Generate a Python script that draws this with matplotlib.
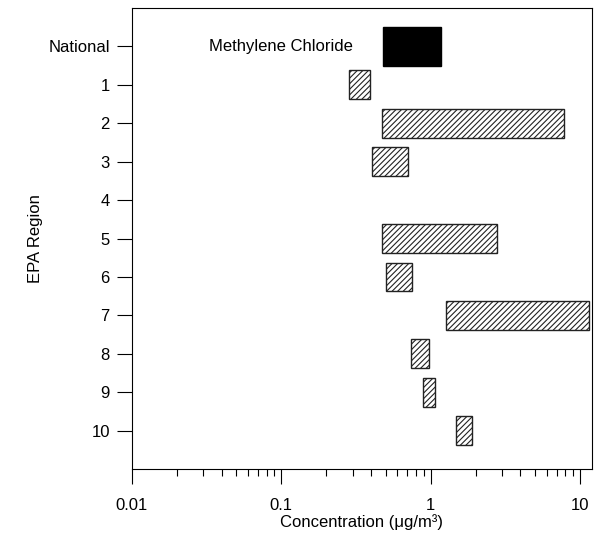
import matplotlib
matplotlib.use("Agg")
import matplotlib.pyplot as plt
import numpy as np

plt.rcParams["font.family"] = ["Liberation Sans", "DejaVu Sans"]
plt.rcParams["hatch.linewidth"] = 0.8

# Concentration range per region (low, high), ug/m3; region 4 has no data
regions = ["National", "1", "2", "3", "4", "5", "6", "7", "8", "9", "10"]
low = [0.48, 0.284, 0.47, 0.407, np.nan, 0.475, 0.505, 1.27, 0.738, 0.884, 1.476]
high = [1.17, 0.391, 7.87, 0.709, np.nan, 2.79, 0.75, 11.5, 0.98, 1.07, 1.88]
x_ticks = [0.01, 0.1, 1, 10]
x_tick_labels = ["0.01", "0.1", "1", "10"]

fig = plt.figure(figsize=(6.04, 5.37), dpi=100)
ax = fig.add_axes([0.2185, 0.1266, 0.7612, 0.8585])

for i, (lo, hi) in enumerate(zip(low, high)):
    if np.isnan(lo):
        continue
    if i == 0:
        ax.barh(i, hi - lo, left=lo, height=1.0, color="black", edgecolor="black", linewidth=1)
    else:
        ax.barh(i, hi - lo, left=lo, height=0.75, color="white", edgecolor="#222222",
                hatch="//////", linewidth=1)

ax.text(0.1, 0, "Methylene Chloride", ha="center", va="center", fontsize=12)

ax.set_xscale("log")
ax.set_xlim(0.01, 12)
ax.set_ylim(11, -1)
ax.set_yticks(range(len(regions)))
ax.set_yticklabels(regions)
ax.set_xticks(x_ticks)
ax.set_xticklabels(x_tick_labels)
ax.tick_params(axis="both", which="major", direction="out", length=11, width=0.8, labelsize=12)
ax.tick_params(axis="x", which="major", pad=10)
ax.tick_params(axis="y", which="major", pad=5)
ax.tick_params(axis="x", which="minor", direction="out", length=5, width=0.8)
ax.tick_params(axis="y", which="minor", left=False)
for s in ax.spines.values():
    s.set_linewidth(0.8)

ax.set_xlabel("Concentration (\u03bcg/m\u00b3)", fontsize=12, labelpad=1)
ax.set_ylabel("EPA Region", fontsize=12, labelpad=4)

fig.savefig("out.png", dpi=100)
